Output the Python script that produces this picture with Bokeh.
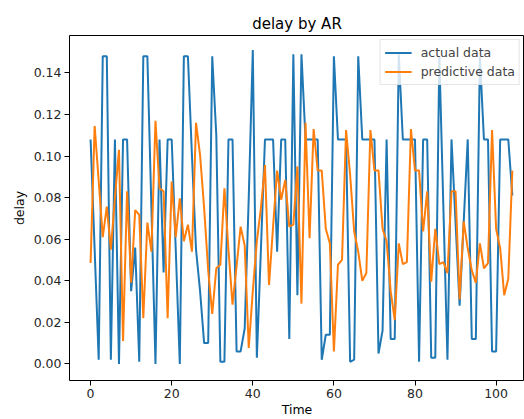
from bokeh.plotting import figure
from bokeh.models import Range1d, FixedTicker, PrintfTickFormatter, Legend, LegendItem
from bokeh.embed import file_html
from bokeh.resources import INLINE

time = list(range(105))
actual = [
    0.108, 0.055, 0.002, 0.148, 0.148, 0.002, 0.108, 0.000, 0.108, 0.108,
    0.035, 0.056, 0.001, 0.148, 0.148, 0.075, 0.000, 0.108, 0.044, 0.108,
    0.108, 0.055, 0.000, 0.148, 0.148, 0.100, 0.055, 0.035, 0.010, 0.010,
    0.148, 0.110, 0.001, 0.001, 0.108, 0.108, 0.006, 0.006, 0.017, 0.080,
    0.151, 0.003, 0.055, 0.108, 0.108, 0.108, 0.054, 0.108, 0.108, 0.012,
    0.149, 0.033, 0.149, 0.108, 0.108, 0.108, 0.108, 0.002, 0.014, 0.014,
    0.148, 0.108, 0.108, 0.108, 0.001, 0.002, 0.148, 0.108, 0.108, 0.108,
    0.108, 0.005, 0.016, 0.108, 0.012, 0.012, 0.149, 0.108, 0.108, 0.108,
    0.108, 0.001, 0.108, 0.108, 0.003, 0.003, 0.148, 0.075, 0.002, 0.108,
    0.068, 0.028, 0.068, 0.108, 0.012, 0.012, 0.148, 0.108, 0.108, 0.006,
    0.006, 0.108, 0.108, 0.108, 0.081,
]
predictive = [
    0.0485, 0.1145, 0.088, 0.061, 0.0757, 0.055, 0.080, 0.103, 0.011, 0.083,
    0.039, 0.074, 0.0717, 0.022, 0.068, 0.054, 0.117, 0.0845, 0.083, 0.022,
    0.0877, 0.061, 0.0797, 0.059, 0.067, 0.054, 0.116, 0.1005, 0.075, 0.045,
    0.024, 0.046, 0.0477, 0.0845, 0.055, 0.0285, 0.047, 0.066, 0.057, 0.0077,
    0.035, 0.059, 0.075, 0.0957, 0.038, 0.066, 0.093, 0.079, 0.0885, 0.066,
    0.067, 0.095, 0.029, 0.116, 0.0605, 0.113, 0.093, 0.093, 0.065, 0.058,
    0.006, 0.0477, 0.050, 0.1125, 0.091, 0.0637, 0.054, 0.040, 0.0437, 0.1125,
    0.093, 0.093, 0.065, 0.059, 0.035, 0.021, 0.058, 0.048, 0.049, 0.113,
    0.093, 0.093, 0.0637, 0.083, 0.0395, 0.065, 0.048, 0.049, 0.0437, 0.083,
    0.083, 0.031, 0.0685, 0.0557, 0.045, 0.039, 0.058, 0.046, 0.0485, 0.1125,
    0.065, 0.0557, 0.033, 0.041, 0.093,
]
x_ticks = [0, 20, 40, 60, 80, 100]
y_ticks = [0.0, 0.02, 0.04, 0.06, 0.08, 0.10, 0.12, 0.14]

FONT = "DejaVu Sans"

p = figure(width=524, height=419, output_backend="svg", toolbar_location=None,
           x_range=Range1d(-5.2, 107.0), y_range=Range1d(-0.008, 0.158),
           min_border_left=69, min_border_right=0, min_border_top=35, min_border_bottom=38,
           title="delay by AR")
p.title.text_font = FONT
p.title.text_font_size = "15px"
p.title.text_font_style = "normal"
p.title.align = "center"
p.title.text_color = "#000000"
p.title.standoff = 5

p.xgrid.visible = False
p.ygrid.visible = False
p.outline_line_color = "#000000"
p.outline_line_width = 1
p.background_fill_color = "white"
p.border_fill_color = "white"

l1 = p.line(time, actual, line_color="#1f77b4", line_width=2)
l2 = p.line(time, predictive, line_color="#ff7f0e", line_width=2)

for ax in (p.xaxis[0], p.yaxis[0]):
    ax.axis_line_color = None
    ax.major_tick_in = 0
    ax.major_tick_out = 5
    ax.minor_tick_line_color = None
    ax.major_label_text_font = FONT
    ax.major_label_text_font_size = "12.5px"
    ax.major_label_text_color = "#262626"
    ax.axis_label_text_font = FONT
    ax.axis_label_text_font_size = "12.5px"
    ax.axis_label_text_font_style = "normal"
    ax.axis_label_text_color = "#000000"
    ax.major_label_standoff = 3

p.xaxis.ticker = FixedTicker(ticks=x_ticks)
p.yaxis.ticker = FixedTicker(ticks=y_ticks)
p.yaxis.formatter = PrintfTickFormatter(format="%.2f")
p.xaxis.axis_label = "Time"
p.yaxis.axis_label = "delay"
p.xaxis.axis_label_standoff = 1
p.yaxis.axis_label_standoff = 4

legend = Legend(items=[LegendItem(label="actual data", renderers=[l1]),
                       LegendItem(label="predictive data", renderers=[l2])],
                location="top_right")
legend.margin = 4
legend.padding = 4
legend.spacing = 2
legend.label_text_font = FONT
legend.label_text_font_size = "12.5px"
legend.label_height = 17
legend.glyph_height = 17
legend.glyph_width = 27
legend.label_standoff = 9
legend.border_line_color = "#cccccc"
legend.background_fill_alpha = 0.8
p.add_layout(legend)

open("out.html", "w").write(file_html(p, INLINE))
